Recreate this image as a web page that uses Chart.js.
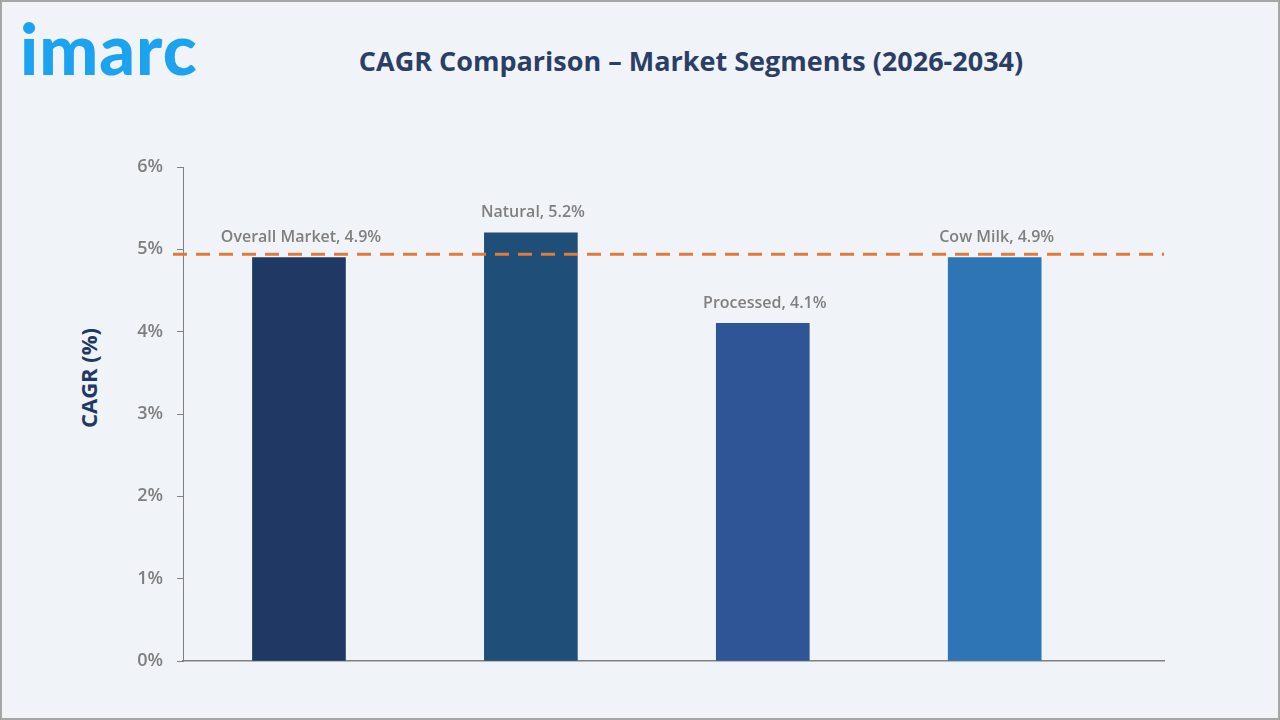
<!DOCTYPE html>
<html>
<head>
<meta charset="utf-8">
<script src="https://cdn.jsdelivr.net/npm/chart.js@4.4.1/dist/chart.umd.min.js"></script>
<style>
  html, body { margin: 0; padding: 0; }
  body { width: 1280px; height: 720px; background: #f0f3f8; position: relative; overflow: hidden; font-family: "Open Sans", sans-serif; }
  #frame { position: absolute; left: 0; top: 0; width: 1276px; height: 716px; border: 2px solid #a6a6a6; }
  #logo { position: absolute; left: 20px; top: 13px; font-family: "Lato", sans-serif; font-weight: 900; font-size: 70px; color: #1ba3f2; letter-spacing: 1px; line-height: 1; }
  #title { position: absolute; left: 0; width: 1382px; top: 42px; text-align: center; font-weight: 700; font-size: 27px; color: #2b3f66; }
  #ytitle { position: absolute; left: 88px; top: 378px; transform: translate(-50%, -50%) rotate(-90deg); white-space: nowrap; font-weight: 700; font-size: 22px; color: #1f3864; }
  #wrap { position: absolute; left: 0; top: 0; width: 1280px; height: 720px; }
</style>
</head>
<body>
<div id="frame"></div>
<div id="logo">imarc</div>
<div id="title">CAGR Comparison – Market Segments (2026-2034)</div>
<div id="ytitle">CAGR (%)</div>
<div id="wrap"><canvas id="myChart" width="1280" height="720"></canvas></div>
<script>
var segments = ["Overall Market", "Natural", "Processed", "Cow Milk"]
var cagr = [4.9, 5.2, 4.1, 4.9]
var barColors = ["#1f3864", "#1f4e79", "#2f5597", "#2e75b6"]
var overallLine = 4.94
var yTicks = [0, 1, 2, 3, 4, 5, 6]

var points = []
for (var i in cagr) {
  points.push({ x: Number(i), y: cagr[i] })
}

// dashed overall-market line
var refLine = {
  id: "refLine",
  afterDatasetsDraw: function(chart) {
    var ctx = chart.ctx
    var y = chart.scales.y.getPixelForValue(overallLine)
    ctx.save()
    ctx.strokeStyle = "#e07b39"
    ctx.lineWidth = 3
    ctx.setLineDash([14, 9])
    ctx.beginPath()
    ctx.moveTo(chart.chartArea.left - 10, y)
    ctx.lineTo(chart.chartArea.right, y)
    ctx.stroke()
    ctx.restore()
  }
}

// "Name, value%" labels above bars
var barLabels = {
  id: "barLabels",
  afterDatasetsDraw: function(chart) {
    var ctx = chart.ctx
    var meta = chart.getDatasetMeta(0)
    ctx.save()
    ctx.font = "600 16px 'Open Sans'"
    ctx.fillStyle = "#7f7f7f"
    ctx.textAlign = "center"
    ctx.textBaseline = "middle"
    meta.data.forEach(function(bar, i) {
      ctx.fillText(segments[i] + ", " + cagr[i].toFixed(1) + "%", bar.x + 2, bar.y - 20)
    })
    ctx.restore()
  }
}

var ctx = document.getElementById("myChart")
var myChart = new Chart(ctx, {
  type: "bar",
  data: {
    datasets: [{
      data: points,
      backgroundColor: barColors,
      barThickness: 93
    }]
  },
  options: {
    responsive: false,
    animation: false,
    layout: { padding: { left: 0, top: 167, right: 116, bottom: 59 } },
    plugins: { legend: { display: false }, tooltip: { enabled: false } },
    scales: {
      x: {
        type: "linear",
        min: -0.5,
        max: 3.73,
        offset: false,
        grid: { display: false, offset: false },
        border: { display: true, color: "#808080", width: 1.5 },
        ticks: { display: false },
        afterFit: function(s) { s.height = 0 }
      },
      y: {
        min: 0,
        max: 6,
        afterBuildTicks: function(s) { s.ticks = yTicks.map(function(v) { return { value: v } }) },
        grid: { drawOnChartArea: false, tickLength: 6, color: "#808080" },
        border: { display: true, color: "#808080", width: 1 },
        ticks: {
          padding: 14,
          color: "#7f7f7f",
          font: { family: "'Open Sans'", size: 18, weight: "600" },
          callback: function(v) { return v + "%" }
        },
        afterFit: function(s) { s.width = 183 }
      }
    }
  },
  plugins: [refLine, barLabels]
})
</script>
</body>
</html>
